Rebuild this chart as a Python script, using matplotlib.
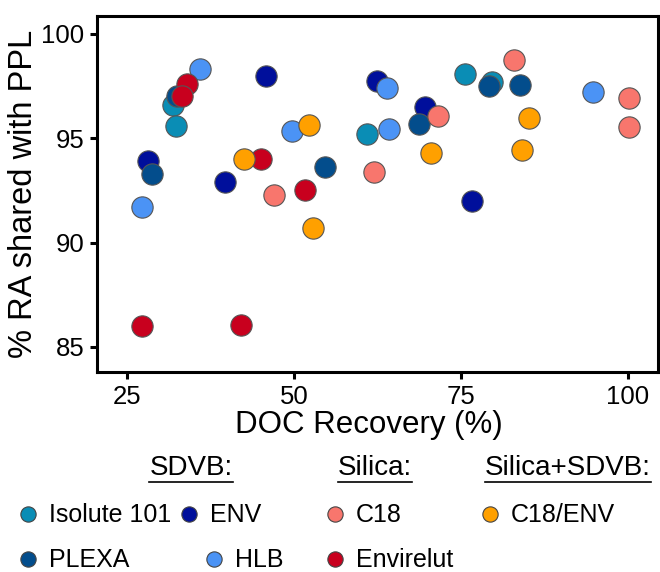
import matplotlib.pyplot as plt
from matplotlib.lines import Line2D

plt.rcParams["font.family"] = ["Liberation Sans", "DejaVu Sans"]

W, H = 660, 572

# sorbent colours
SORBENTS = ["Isolute 101", "ENV", "PLEXA", "HLB", "Envirelut", "C18", "C18/ENV"]
COLORS = {
    "Isolute 101": "#0a8db5",
    "PLEXA": "#034d8c",
    "ENV": "#000f9b",
    "HLB": "#4b93f5",
    "C18": "#f8766d",
    "Envirelut": "#c8001e",
    "C18/ENV": "#ffa000",
}

# DOC recovery (%) and % RA shared with PPL, per sorbent
doc_isolute = [31.9, 32.3, 60.9, 75.6, 79.6]
ra_isolute = [96.6, 95.6, 95.2, 98.05, 97.7]

doc_plexa = [32.5, 28.7, 54.6, 68.7, 79.2, 83.8]
ra_plexa = [97.0, 93.3, 93.6, 95.7, 97.5, 97.55]

doc_env = [45.8, 28.1, 39.7, 62.4, 69.6, 76.6]
ra_env = [98.0, 93.9, 92.9, 97.75, 96.5, 92.0]

doc_hlb = [35.9, 27.2, 49.7, 63.9, 64.2, 94.8]
ra_hlb = [98.3, 91.7, 95.35, 97.4, 95.45, 97.2]

doc_c18 = [47.0, 62.0, 71.6, 82.9, 100.1, 100.1]
ra_c18 = [92.3, 93.4, 96.05, 98.75, 96.9, 95.55]

doc_envirelut = [34.0, 33.2, 27.3, 42.1, 45.1, 51.6]
ra_envirelut = [97.6, 97.0, 86.0, 86.05, 94.0, 92.5]

doc_c18env = [42.5, 52.8, 52.3, 70.5, 85.2, 84.1]
ra_c18env = [94.0, 90.7, 95.65, 94.3, 95.95, 94.45]

DATA = {
    "Isolute 101": (doc_isolute, ra_isolute),
    "ENV": (doc_env, ra_env),
    "PLEXA": (doc_plexa, ra_plexa),
    "HLB": (doc_hlb, ra_hlb),
    "Envirelut": (doc_envirelut, ra_envirelut),
    "C18": (doc_c18, ra_c18),
    "C18/ENV": (doc_c18env, ra_c18env),
}

X_TICKS = [25, 50, 75, 100]
Y_TICKS = [85, 90, 95, 100]

# legend layout: (name, marker x px, row)
LEGEND_ITEMS = [
    ("Isolute 101", 28, 0), ("PLEXA", 28, 1),
    ("ENV", 189, 0), ("HLB", 214, 1),
    ("C18", 335, 0), ("Envirelut", 335, 1),
    ("C18/ENV", 490, 0),
]
HEADERS = [("SDVB:", 191), ("Silica:", 375), ("Silica+SDVB:", 568)]


fig = plt.figure(figsize=(W / 100, H / 100), dpi=100)
ax = fig.add_axes([97 / W, 1 - 372 / H, (658 - 97) / W, (372 - 16) / H])

for name in SORBENTS:
    x, y = DATA[name]
    ax.scatter(x, y, s=235, color=COLORS[name], edgecolor="#555555",
               linewidth=0.8, zorder=3)

ax.set_xlim(20.5, 104.5)
ax.set_ylim(83.8, 100.85)
ax.set_xticks(X_TICKS)
ax.set_yticks(Y_TICKS)
ax.tick_params(labelsize=18.5, width=2.2, length=5, color="black", pad=4)
for sp in ax.spines.values():
    sp.set_linewidth(2.2)
ax.set_xlabel("DOC Recovery (%)", fontsize=22.5, labelpad=1, x=0.485)
ax.set_ylabel("% RA shared with PPL", fontsize=23.5, labelpad=2)

# legend drawn by hand so that the columns sit where they do in the original
row_y = [514, 559]
for name, mx, row in LEGEND_ITEMS:
    fig.add_artist(Line2D([mx / W], [1 - row_y[row] / H], transform=fig.transFigure,
                          marker="o", linestyle="none", markersize=11,
                          markerfacecolor=COLORS[name], markeredgecolor="#444444",
                          markeredgewidth=0.8))
    fig.text((mx + 21) / W, 1 - (row_y[row] + 1) / H, name, fontsize=18,
             ha="left", va="center")

# underlined group headers
fig.canvas.draw()
renderer = fig.canvas.get_renderer()
for label, xc in HEADERS:
    t = fig.text(xc / W, 1 - 468 / H, label, fontsize=20, ha="center", va="center")
    bb = t.get_window_extent(renderer).transformed(fig.transFigure.inverted())
    uy = 1 - 482 / H
    fig.add_artist(Line2D([bb.x0, bb.x1], [uy, uy], transform=fig.transFigure,
                          color="black", linewidth=1.2))

fig.savefig("out.png", dpi=100)
